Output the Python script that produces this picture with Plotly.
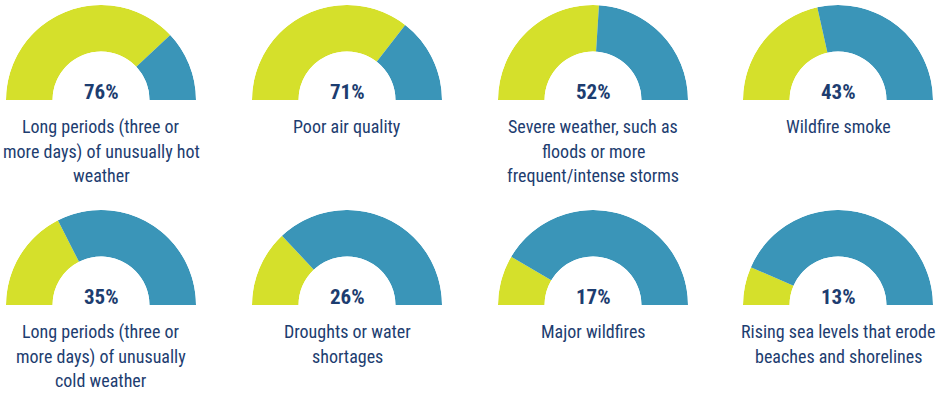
import plotly.graph_objects as go

labels = [
    ["Long periods (three or", "more days) of unusually hot", "weather"],
    ["Poor air quality"],
    ["Severe weather, such as", "floods or more", "frequent/intense storms"],
    ["Wildfire smoke"],
    ["Long periods (three or", "more days) of unusually", "cold weather"],
    ["Droughts or water", "shortages"],
    ["Major wildfires"],
    ["Rising sea levels that erode", "beaches and shorelines"],
]
percents = [76, 71, 52, 43, 35, 26, 17, 13]

GREEN = "#d5e02b"
BLUE = "#3a95b8"
NAVY = "#1d3d70"
FONT = "Roboto"

W, H = 942, 395
centers_x = [101, 347, 593, 838]
bottoms_y = [100, 305]
R = 95
HOLE = 0.51
LINE_GAP = 24.5


def cond(t):
    return f'<span style="font-stretch:condensed">{t}</span>'


fig = go.Figure()
layout = dict(
    width=W, height=H, margin=dict(l=0, r=0, t=0, b=0),
    paper_bgcolor="white", plot_bgcolor="white", showlegend=False,
)
annotations = []
for i, (lab, p) in enumerate(zip(labels, percents)):
    row, col = divmod(i, 4)
    cx = centers_x[col]
    by = bottoms_y[row]
    name = "polar" if i == 0 else f"polar{i+1}"
    x0 = (cx - R) / W
    x1 = (cx + R) / W
    y0 = (H - by) / H
    y1 = (H - by + R) / H
    layout[name] = dict(
        domain=dict(x=[x0, x1], y=[y0, y1]),
        sector=[0, 180],
        hole=HOLE,
        bgcolor="rgba(0,0,0,0)",
        radialaxis=dict(range=[0, 1], visible=False, showgrid=False),
        angularaxis=dict(rotation=180, direction="clockwise", visible=False,
                         showgrid=False, thetaunit="degrees"),
    )
    g = p * 1.8
    b = (100 - p) * 1.8
    fig.add_trace(go.Barpolar(
        r=[1, 1], theta=[g / 2, g + b / 2], width=[g, b],
        marker=dict(color=[GREEN, BLUE], line=dict(width=0)),
        subplot=name, hoverinfo="skip",
    ))
    annotations.append(dict(
        x=cx / W, y=(H - by) / H, xref="paper", yref="paper",
        text=cond(f"<b>{p}%</b>"), showarrow=False, xanchor="center", yanchor="bottom",
        font=dict(family=FONT, size=21, color=NAVY), yshift=-6,
    ))
    for k, line in enumerate(lab):
        annotations.append(dict(
            x=cx / W, y=(H - by - 14 - LINE_GAP * k) / H, xref="paper", yref="paper",
            text=cond(line), showarrow=False, xanchor="center", yanchor="top",
            font=dict(family=FONT, size=18, color=NAVY), align="center",
        ))

layout["annotations"] = annotations
fig.update_layout(**layout)
fig.write_html("out.html")
